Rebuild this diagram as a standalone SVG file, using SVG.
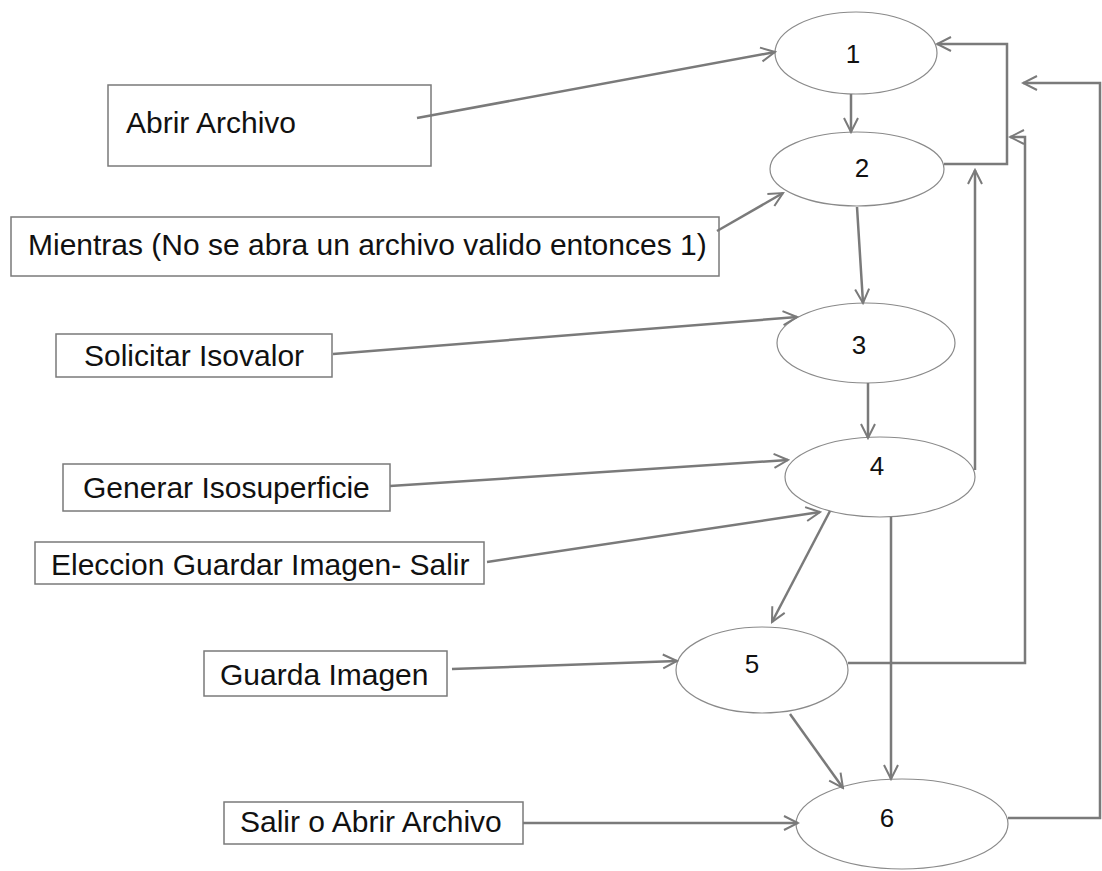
<svg xmlns="http://www.w3.org/2000/svg" width="1102" height="871" viewBox="0 0 1102 871">
<style>
.box{fill:#fff;stroke:#7a7a7a;stroke-width:1.5}
.ell{fill:#fff;stroke:#8a8a8a;stroke-width:1.2}
.lbl{font-family:"Liberation Sans",Arial,sans-serif;font-size:30px;fill:#111}
.num{font-family:"Liberation Sans",Arial,sans-serif;font-size:26px;fill:#111;text-anchor:middle}
.c{fill:none;stroke:#7a7a7a;stroke-width:2.5;marker-end:url(#arr)}
</style>
<defs>
<marker id="arr" viewBox="0 0 18 18" refX="16" refY="9" markerWidth="18" markerHeight="18" markerUnits="userSpaceOnUse" orient="auto">
<path d="M2,2 L16,9 L2,16" fill="none" stroke="#7a7a7a" stroke-width="2"/>
</marker>
</defs>
<rect width="1102" height="871" fill="#fff"/>
<g id="n1"><ellipse class="ell" cx="856" cy="53" rx="81" ry="41"/><text class="num" x="853" y="63">1</text></g>
<g id="n2"><ellipse class="ell" cx="857" cy="169" rx="87" ry="37"/><text class="num" x="862" y="177">2</text></g>
<g id="n3"><ellipse class="ell" cx="866" cy="343" rx="89" ry="40"/><text class="num" x="859" y="354">3</text></g>
<g id="n4"><ellipse class="ell" cx="880" cy="477" rx="95" ry="40"/><text class="num" x="877" y="475">4</text></g>
<g id="n5"><ellipse class="ell" cx="762" cy="670" rx="86" ry="43"/><text class="num" x="752" y="673">5</text></g>
<g id="n6"><ellipse class="ell" cx="902" cy="824" rx="106" ry="45"/><text class="num" x="887" y="827">6</text></g>
<g id="b-abrir"><rect class="box" x="108" y="85" width="323" height="81"/><text class="lbl" x="126" y="133">Abrir Archivo</text></g>
<g id="b-mientras"><rect class="box" x="11" y="217" width="708" height="59"/><text class="lbl" x="28" y="255">Mientras (No se abra un archivo valido entonces 1)</text></g>
<g id="b-solicitar"><rect class="box" x="56" y="334" width="276" height="43"/><text class="lbl" x="84" y="366">Solicitar Isovalor</text></g>
<g id="b-generar"><rect class="box" x="63" y="464" width="327" height="47"/><text class="lbl" x="83" y="498">Generar Isosuperficie</text></g>
<g id="b-eleccion"><rect class="box" x="35" y="542" width="449" height="42"/><text class="lbl" x="51" y="575">Eleccion Guardar Imagen- Salir</text></g>
<g id="b-guarda"><rect class="box" x="204" y="651" width="243" height="45"/><text class="lbl" x="220" y="685">Guarda Imagen</text></g>
<g id="b-salir"><rect class="box" x="224" y="802" width="299" height="42"/><text class="lbl" x="240" y="832">Salir o Abrir Archivo</text></g>
<g id="connectors">
<path class="c" d="M417,118 L775,52"/>
<path class="c" d="M851,94 L851,132"/>
<path class="c" d="M717,231 L783,193"/>
<path class="c" d="M857,207 L863,303"/>
<path class="c" d="M333,354 L797,317"/>
<path class="c" d="M868,383 L868,438"/>
<path class="c" d="M390,486 L788,460"/>
<path class="c" d="M487,562 L820,512"/>
<path class="c" d="M830,511 L772,622"/>
<path class="c" d="M452,669 L677,661"/>
<path class="c" d="M790,714 L843,788"/>
<path class="c" d="M891,517 L891,779"/>
<path class="c" d="M523,823 L798,823"/>
<path class="c" d="M944,164 L1007,164 L1007,44 L937,44"/>
<path class="c" d="M975,470 L975,170"/>
<path class="c" d="M848,663 L1025,663 L1025,137 L1010,137"/>
<path class="c" d="M1008,818 L1100,818 L1100,83 L1023,83"/>
</g>
</svg>
